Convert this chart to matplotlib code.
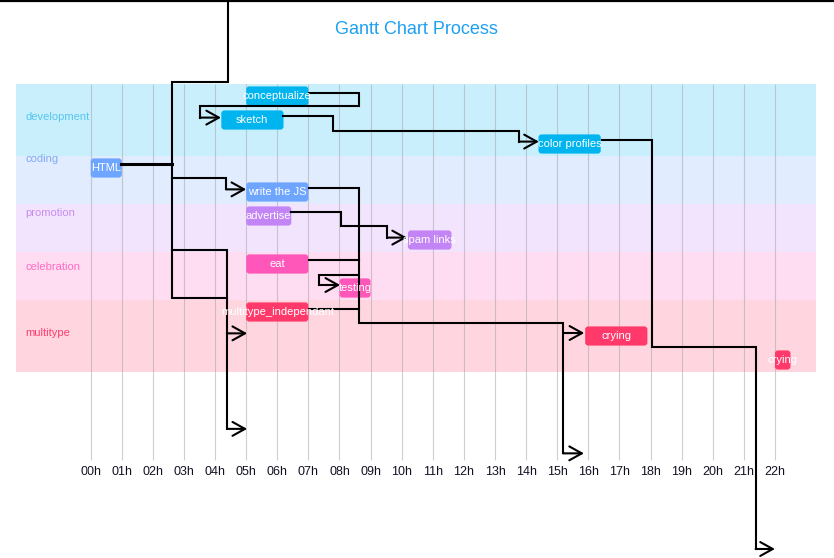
import matplotlib.pyplot as plt
from matplotlib.patches import FancyBboxPatch

plt.rcParams["font.family"] = ["Liberation Sans", "DejaVu Sans"]

# tasks, in row order (top to bottom)
tasks = ["conceptualize", "sketch", "color profiles", "HTML", "write the JS",
         "advertise", "spam links", "eat", "testing", "multitype_independant",
         "crying", "crying"]
task_start = [5.0, 4.2, 14.4, 0.0, 5.0, 5.0, 10.2, 5.0, 8.0, 5.0, 15.9, 22.0]
task_end = [7.0, 6.2, 16.4, 1.0, 7.0, 6.45, 11.6, 7.0, 9.0, 7.0, 17.9, 22.5]
task_section = [0, 0, 0, 1, 1, 2, 2, 3, 3, 4, 4, 4]

sections = ["development", "coding", "promotion", "celebration", "multitype"]
section_rows = [3, 2, 2, 2, 3]
section_label_offset = [1.375, 0.125, 0.375, 0.625, 1.375]
band_colors = ["#c9effd", "#e1ecff", "#f3e4fd", "#fedcf2", "#ffd6e0"]
bar_colors = ["#00b4f0", "#6ea5ff", "#c385f5", "#ff57b9", "#ff3a6b"]
label_colors = ["#55c6f0", "#80abf5", "#c78cf0", "#ff6cc2", "#ff3d6e"]

hours = list(range(23))
hour_labels = [f"{h:02d}h" for h in hours]

# dependency connectors (hour, row) waypoints, last segment gets an arrow head
connectors = [
    ([(0.98, 3.35), (2.61, 3.35)], False),
    ([(4.41, -3.6), (4.41, -0.08), (2.61, -0.08), (2.61, 8.92), (4.38, 8.92)], False),
    ([(2.61, 3.92), (4.35, 3.92), (4.35, 4.39), (5.0, 4.39)], True),
    ([(2.61, 6.92), (4.38, 6.92), (4.38, 10.39), (5.03, 10.39)], True),
    ([(4.38, 10.39), (4.38, 14.37), (5.03, 14.37)], True),
    ([(7.02, 0.36), (8.63, 0.36), (8.63, 0.92), (3.51, 0.92), (3.51, 1.40), (4.19, 1.40)], True),
    ([(6.18, 1.32), (7.78, 1.32), (7.78, 1.95), (13.77, 1.95), (13.77, 2.40), (14.41, 2.40)], True),
    ([(16.44, 2.33), (18.04, 2.33), (18.04, 10.95), (21.38, 10.95), (21.38, 19.375), (22.0, 19.375)], True),
    ([(7.02, 4.35), (8.62, 4.35), (8.62, 9.94), (15.19, 9.94), (15.19, 15.39), (15.86, 15.39)], True),
    ([(15.19, 10.375), (15.87, 10.375)], True),
    ([(6.44, 5.32), (8.04, 5.32), (8.04, 5.92), (9.54, 5.92), (9.54, 6.40), (10.17, 6.40)], True),
    ([(7.02, 7.33), (8.62, 7.33)], False),
    ([(8.62, 7.96), (7.35, 7.96), (7.35, 8.375), (8.02, 8.375)], True),
    ([(7.02, 9.375), (8.62, 9.375)], False),
]

fig = plt.figure(figsize=(8.34, 5.58), dpi=100)
ax = fig.add_axes([0, 0, 1, 1])
ax.set_xlim(-2.916, 23.90)
ax.set_ylim(19.75, -3.5)
ax.axis("off")

# section bands
row = 0
for i, name in enumerate(sections):
    n = section_rows[i]
    ax.barh(row + n / 2, 25.72, left=-2.40, height=n, color=band_colors[i], zorder=0)
    ax.text(-2.09, row + section_label_offset[i], name, color=label_colors[i],
            fontsize=8, ha="left", va="center")
    row += n

# grid and ticks
ax.vlines(hours, 0, 15.67, color="#a0a0a0", alpha=0.5, lw=0.8, zorder=1)
for h, lab in zip(hours, hour_labels):
    ax.text(h, 16.15, lab, fontsize=9, ha="center", va="center", color="#111122")

# bars
for i, name in enumerate(tasks):
    s, e = task_start[i], task_end[i]
    ax.add_patch(FancyBboxPatch((s, i + 0.1), e - s, 0.8,
                                boxstyle="round,pad=0,rounding_size=0.1",
                                mutation_aspect=1.25,
                                facecolor=bar_colors[task_section[i]],
                                edgecolor="none", zorder=2))
    ax.text((s + e) / 2, i + 0.5, name, color="white", fontsize=8,
            ha="center", va="center", zorder=4)

# connectors
for pts, arrow in connectors:
    xs = [p[0] for p in pts]
    ys = [p[1] for p in pts]
    lw = 2.2 if pts[0] == (0.98, 3.35) else 1.5
    if arrow:
        ax.plot(xs[:-1], ys[:-1], color="black", lw=lw, zorder=3,
                solid_joinstyle="miter")
        ax.annotate("", xy=pts[-1], xytext=pts[-2],
                    arrowprops=dict(arrowstyle="->,head_length=0.45,head_width=0.25",
                                    color="black", lw=lw, shrinkA=0, shrinkB=0,
                                    mutation_scale=20), zorder=3)
    else:
        ax.plot(xs, ys, color="black", lw=lw, zorder=3, solid_joinstyle="miter")
ax.axhline(-3.45, color="black", lw=1.6, zorder=3)

ax.text(10.46, -2.29, "Gantt Chart Process", color="#1ca0f2", fontsize=13,
        ha="center", va="center")

fig.savefig("out.png", dpi=100)
